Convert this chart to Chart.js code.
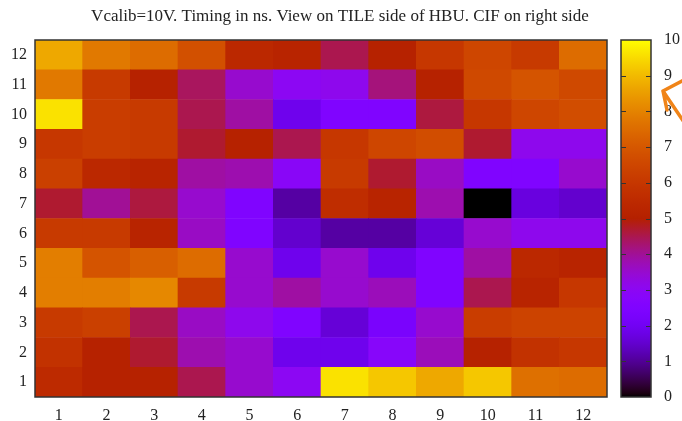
<!DOCTYPE html>
<html lang="en">
<head>
  <meta charset="UTF-8" />
  <title>HBU timing map</title>
  <script src="https://cdn.jsdelivr.net/npm/chart.js"></script>
  <style>
    body {
      margin: 0;
      background: white;
    }
    .wrap {
      position: relative;
      width: 682px;
      height: 421px;
    }
    #mapChart {
      position: absolute;
      left: 0;
      top: 0;
    }
    #barChart {
      position: absolute;
      left: 600px;
      top: 0;
    }
  </style>
</head>
<body>
  <div class="wrap">
    <canvas id="mapChart" width="682" height="421"></canvas>
    <canvas id="barChart" width="82" height="421"></canvas>
  </div>

  <script>
    const titleText = "Vcalib=10V. Timing in ns. View on TILE side of HBU. CIF on right side";
    const columns = ["1", "2", "3", "4", "5", "6", "7", "8", "9", "10", "11", "12"];
    const rows = [1, 2, 3, 4, 5, 6, 7, 8, 9, 10, 11, 12];
    const colorTicks = [0, 1, 2, 3, 4, 5, 6, 7, 8, 9, 10];

    // timing per tile, one array per row (row 1 = bottom)
    const row1  = [5.5, 5.1, 5.1, 4.5, 3.5, 3.0, 9.6, 9.2, 8.7, 9.2, 7.6, 7.5];
    const row2  = [5.8, 5.1, 4.7, 3.8, 3.5, 1.9, 1.9, 2.8, 3.7, 5.1, 5.8, 6.0];
    const row3  = [6.1, 6.3, 4.5, 3.6, 3.1, 2.5, 1.6, 2.3, 3.5, 6.2, 6.4, 6.4];
    const row4  = [7.9, 7.9, 8.1, 6.1, 3.5, 3.9, 3.5, 3.7, 2.5, 4.5, 5.2, 6.0];
    const row5  = [7.9, 6.9, 7.2, 7.5, 3.5, 1.9, 3.5, 1.9, 2.5, 3.9, 5.4, 5.2];
    const row6  = [6.1, 6.1, 5.2, 3.6, 2.5, 1.5, 1.1, 1.1, 1.6, 3.5, 3.1, 3.1];
    const row7  = [4.7, 4.0, 4.6, 3.5, 2.5, 1.1, 5.6, 5.2, 3.8, 0.0, 1.7, 1.5];
    const row8  = [6.3, 5.4, 5.2, 3.9, 3.8, 2.9, 6.1, 4.7, 3.6, 2.5, 2.5, 3.5];
    const row9  = [6.0, 6.2, 6.1, 4.7, 5.1, 4.5, 6.0, 6.5, 6.7, 4.7, 3.1, 3.1];
    const row10 = [9.6, 6.2, 6.1, 4.5, 3.9, 1.9, 2.5, 2.5, 4.6, 6.0, 6.5, 6.7];
    const row11 = [7.8, 6.1, 5.1, 4.4, 3.5, 3.0, 3.1, 4.2, 5.1, 6.6, 6.9, 6.6];
    const row12 = [8.7, 7.8, 7.5, 6.8, 5.4, 5.2, 4.5, 5.1, 6.0, 6.5, 6.1, 7.5];
    const rowValues = [row1, row2, row3, row4, row5, row6, row7, row8, row9, row10, row11, row12];

    const cbMin = 0;
    const cbMax = 10;

    // gnuplot rgbformulae 7,5,15
    function palette(v) {
      const x = Math.min(1, Math.max(0, (v - cbMin) / (cbMax - cbMin)));
      const r = Math.round(255 * Math.sqrt(x));
      const g = Math.round(255 * x * x * x);
      const b = Math.round(255 * Math.max(0, Math.sin(2 * Math.PI * x)));
      return `rgb(${r},${g},${b})`;
    }

    const serif = "'Liberation Serif', 'DejaVu Serif', serif";
    const textColor = "#222";

    const datasets = rows.map((r, i) => ({
      label: "row " + r,
      data: rowValues[i].map(() => [r - 0.5, r + 0.5]),
      backgroundColor: rowValues[i].map(palette),
      borderWidth: 0,
      barPercentage: 1,
      categoryPercentage: 1,
      grouped: false
    }));

    const frame = {
      id: "frame",
      afterDatasetsDraw(chart) {
        const a = chart.chartArea;
        const ctx = chart.ctx;
        ctx.save();
        ctx.strokeStyle = "#333";
        ctx.lineWidth = 1.5;
        ctx.strokeRect(a.left, a.top, a.right - a.left, a.bottom - a.top);
        ctx.restore();
      },
      afterDraw(chart) {
        const ctx = chart.ctx;
        ctx.save();
        ctx.fillStyle = textColor;
        ctx.font = "17px " + serif;
        ctx.textAlign = "center";
        ctx.textBaseline = "middle";
        ctx.fillText(titleText, 340, 17);
        ctx.restore();
      }
    };

    new Chart(document.getElementById("mapChart"), {
      type: "bar",
      data: { labels: columns, datasets: datasets },
      options: {
        responsive: false,
        animation: false,
        layout: { padding: { top: 40, right: 75, left: 0, bottom: 0 } },
        plugins: { legend: { display: false }, tooltip: { enabled: false } },
        scales: {
          x: {
            type: "category",
            offset: true,
            grid: { display: false, drawTicks: false },
            border: { display: false },
            ticks: { color: textColor, font: { family: serif, size: 16 }, padding: 9 },
            afterFit(s) { s.height = 24; }
          },
          y: {
            type: "linear",
            min: 0.5,
            max: 12.5,
            grid: { display: false, drawTicks: false },
            border: { display: false },
            afterBuildTicks(s) { s.ticks = rows.map(v => ({ value: v })); },
            ticks: { color: textColor, font: { family: serif, size: 16 }, padding: 8 },
            afterFit(s) { s.width = 35; }
          }
        }
      },
      plugins: [frame]
    });

    // colour box
    const cbTicks = {
      id: "cbTicks",
      afterDatasetsDraw(chart) {
        const a = chart.chartArea;
        const ys = chart.scales.y;
        const ctx = chart.ctx;
        ctx.save();
        ctx.strokeStyle = "#333";
        ctx.lineWidth = 1;
        colorTicks.forEach(v => {
          if (v === cbMin || v === cbMax) return;
          const y = Math.round(ys.getPixelForValue(v)) + 0.5;
          ctx.beginPath();
          ctx.moveTo(a.left, y); ctx.lineTo(a.left + 5, y);
          ctx.moveTo(a.right - 5, y); ctx.lineTo(a.right, y);
          ctx.stroke();
        });
        ctx.lineWidth = 1.5;
        ctx.strokeRect(a.left, a.top, a.right - a.left, a.bottom - a.top);
        // orange marker arrow
        ctx.strokeStyle = "#f08418";
        ctx.lineWidth = 3.5;
        ctx.lineCap = "round";
        ctx.beginPath();
        ctx.moveTo(63, 91); ctx.lineTo(86, 125);
        ctx.moveTo(63, 91); ctx.lineTo(84, 80);
        ctx.moveTo(63, 91); ctx.lineTo(67, 110);
        ctx.stroke();
        ctx.restore();
      }
    };

    new Chart(document.getElementById("barChart"), {
      type: "bar",
      data: {
        labels: ["cb"],
        datasets: [{
          data: [[cbMin, cbMax]],
          borderWidth: 0,
          barPercentage: 1,
          categoryPercentage: 1,
          backgroundColor(c) {
            const a = c.chart.chartArea;
            if (!a) return "black";
            const grad = c.chart.ctx.createLinearGradient(0, a.bottom, 0, a.top);
            for (let i = 0; i <= 100; i++) {
              grad.addColorStop(i / 100, palette(cbMin + (cbMax - cbMin) * i / 100));
            }
            return grad;
          }
        }]
      },
      options: {
        responsive: false,
        animation: false,
        layout: { padding: { top: 40, left: 21, right: 0, bottom: 24 } },
        plugins: { legend: { display: false }, tooltip: { enabled: false } },
        scales: {
          x: { display: false },
          y: {
            position: "right",
            min: cbMin,
            max: cbMax,
            grid: { display: false, drawTicks: false },
            border: { display: false },
            afterBuildTicks(s) { s.ticks = colorTicks.map(v => ({ value: v })); },
            ticks: { color: textColor, font: { family: serif, size: 16 }, padding: 13 },
            afterFit(s) { s.width = 31; }
          }
        }
      },
      plugins: [cbTicks]
    });
  </script>
</body>
</html>
